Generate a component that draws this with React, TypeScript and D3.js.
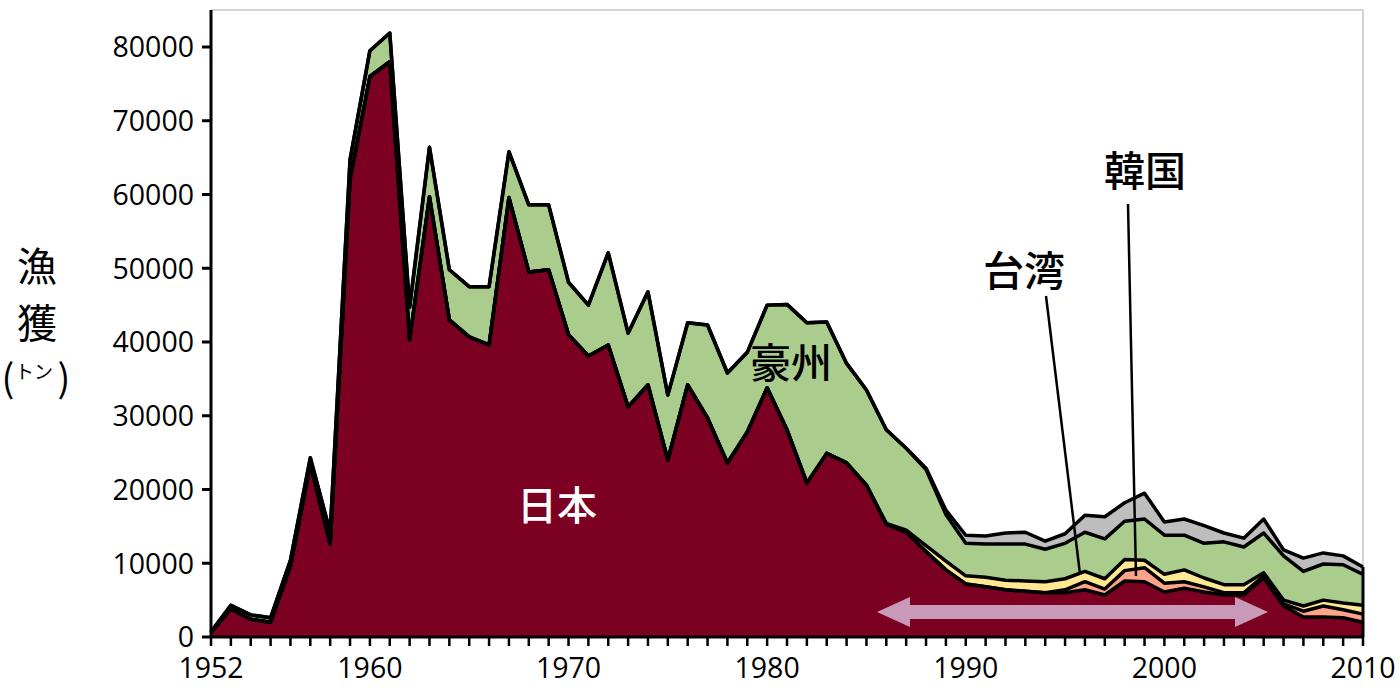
import React from "react";
import * as d3 from "d3";

const years: number[] = d3.range(1952, 2011);

const japan: number[] = [
  600, 3800, 2400, 2000, 9600, 23400, 12600, 62000, 76000, 78000,
  40300, 59700, 43000, 40700, 39600, 59600, 49500, 49800, 41000, 38100,
  39600, 31200, 34200, 24000, 34200, 29700, 23600, 27800, 33800, 28100,
  20900, 24900, 23600, 20600, 15300, 14200, 11600, 9100, 7200, 6800,
  6400, 6200, 6000, 6000, 6400, 5700, 7600, 7500, 6100, 6600,
  6100, 5700, 5700, 8000, 4200, 2700, 2700, 2600, 2000,
];
const korea: number[] = [
  0, 0, 0, 0, 0, 0, 0, 0, 0, 0,
  0, 0, 0, 0, 0, 0, 0, 0, 0, 0,
  0, 0, 0, 0, 0, 0, 0, 0, 0, 0,
  0, 0, 0, 0, 0, 0, 0, 0, 0, 0,
  0, 0, 0, 400, 1100, 800, 1400, 1900, 1200, 900,
  700, 300, 300, 300, 300, 800, 1500, 1100, 1100,
];
const taiwan: number[] = [
  0, 0, 0, 0, 0, 0, 0, 0, 0, 0,
  0, 0, 0, 0, 0, 0, 0, 0, 0, 0,
  0, 0, 0, 0, 0, 0, 0, 0, 0, 0,
  0, 0, 0, 0, 100, 300, 800, 1200, 1100, 1300,
  1300, 1400, 1500, 1500, 1400, 1400, 1500, 1000, 1200, 1600,
  1200, 1100, 1100, 400, 500, 700, 800, 900, 1200,
];
const australia: number[] = [
  100, 500, 600, 600, 800, 900, 1600, 2700, 3500, 3900,
  4400, 6700, 6800, 6800, 7900, 6200, 9100, 8800, 7100, 6900,
  12500, 10000, 12600, 8800, 8400, 12600, 12200, 10800, 11200, 17000,
  21700, 17800, 13500, 12900, 12700, 11100, 10300, 6300, 4400, 4500,
  4900, 5000, 4400, 4800, 5300, 5400, 5200, 5600, 5300, 4700,
  4700, 5800, 5100, 5400, 6000, 4700, 4900, 5200, 4200,
];
const others: number[] = [
  0, 0, 0, 0, 0, 0, 0, 0, 0, 0,
  0, 0, 0, 0, 0, 0, 0, 0, 0, 0,
  0, 0, 0, 0, 0, 0, 0, 0, 0, 0,
  0, 0, 0, 0, 0, 0, 200, 600, 1100, 1100,
  1500, 1600, 1100, 1300, 2300, 3000, 2500, 3500, 1800, 2200,
  2400, 1200, 1200, 1900, 800, 1800, 1500, 1200, 1000,
];

const seriesKeys = ["japan", "korea", "taiwan", "australia", "others"];
const seriesColors = ["#7b0021", "#ffa48a", "#ffe891", "#aacd8e", "#bebebe"];
const yTicks: number[] = [0, 10000, 20000, 30000, 40000, 50000, 60000, 70000, 80000];
const xTickLabels: number[] = [1952, 1960, 1970, 1980, 1990, 2000, 2010];

const W = 1400;
const H = 700;
const left = 211;
const right = 1363;
const top = 10;
const bottom = 637;
const FONT = "'Open Sans', 'Noto Sans', sans-serif";
const CJK = "'Noto Sans CJK JP', sans-serif";

export default function App() {
  const table = years.map((y, i) => ({
    year: y,
    japan: japan[i],
    korea: korea[i],
    taiwan: taiwan[i],
    australia: australia[i],
    others: others[i],
  }));
  const stacked = d3.stack<any>().keys(seriesKeys)(table);
  const x = d3.scaleLinear().domain([1952, 2010]).range([left, right]);
  const y = d3.scaleLinear().domain([0, 80000]).range([bottom, 47]);

  const area = d3
    .area<any>()
    .x((d) => x(d.data.year))
    .y0((d) => y(d[0]))
    .y1((d) => y(d[1]));
  const line = d3
    .line<any>()
    .x((d) => x(d.data.year))
    .y((d) => y(d[1]));

  // arrow
  const ax0 = 877, ax1 = 1268, ay = 612, headL = 33, headH = 15, shaftH = 7;
  const arrowPath = `M${ax0},${ay} L${ax0 + headL},${ay - headH} L${ax0 + headL},${ay - shaftH} L${ax1 - headL},${ay - shaftH} L${ax1 - headL},${ay - headH} L${ax1},${ay} L${ax1 - headL},${ay + headH} L${ax1 - headL},${ay + shaftH} L${ax0 + headL},${ay + shaftH} L${ax0 + headL},${ay + headH} Z`;

  return (
    <svg width={W} height={H} style={{ position: "absolute", left: 0, top: 0, background: "#fff" }}>
      {/* frame */}
      <path d={`M${left},${top} L${right},${top} L${right},${bottom}`} fill="none" stroke="#d4d4d4" strokeWidth={2} />
      {stacked.map((s, i) => (
        <path key={"a" + i} d={area(s) || ""} fill={seriesColors[i]} />
      ))}
      {stacked.map((s, i) => (
        <path key={"l" + i} d={line(s) || ""} fill="none" stroke="#000" strokeWidth={3.5} strokeLinejoin="round" />
      ))}
      <path d={`M${x(2010)},${y(stacked[4][58][1])} L${x(2010)},${bottom}`} stroke="#000" strokeWidth={3} />
      {/* arrow */}
      <path d={arrowPath} fill="#c99ab7" />
      {/* axes */}
      <line x1={left} x2={left} y1={top} y2={bottom + 1} stroke="#000" strokeWidth={3} />
      <line x1={left - 1} x2={right + 1} y1={bottom} y2={bottom} stroke="#000" strokeWidth={3} />
      {yTicks.map((t) => (
        <g key={"yt" + t}>
          <line x1={left - 9} x2={left} y1={y(t)} y2={y(t)} stroke="#000" strokeWidth={3} />
          <text x={194} y={y(t)} dy="0.36em" textAnchor="end" fontFamily={FONT} fontSize={28.5} fill="#000">
            {t}
          </text>
        </g>
      ))}
      {years.map((yr) => (
        <line key={"xt" + yr} x1={x(yr)} x2={x(yr)} y1={bottom} y2={bottom + 9} stroke="#000" strokeWidth={2.5} />
      ))}
      {xTickLabels.map((yr) => (
        <text key={"xl" + yr} x={x(yr)} y={678} textAnchor="middle" fontFamily={FONT} fontSize={28.5} fill="#000">
          {yr}
        </text>
      ))}
      {/* y axis title */}
      <text x={37} y={281} textAnchor="middle" fontFamily={CJK} fontSize={40} fill="#000">漁</text>
      <text x={37} y={338} textAnchor="middle" fontFamily={CJK} fontSize={40} fill="#000">獲</text>
      <text x={8} y={392} textAnchor="middle" fontFamily={CJK} fontSize={38} fill="#000">(</text>
      <text x={34} y={379} textAnchor="middle" fontFamily={CJK} fontSize={19} fill="#000">トン</text>
      <text x={64} y={392} textAnchor="middle" fontFamily={CJK} fontSize={38} fill="#000">)</text>
      {/* labels */}
      <text x={557} y={520} textAnchor="middle" fontFamily={CJK} fontSize={40} fontWeight={500} fill="#fff">日本</text>
      <text x={791} y={378} textAnchor="middle" fontFamily={CJK} fontSize={41} fontWeight={500} fill="#000">豪州</text>
      <text x={1024} y={286} textAnchor="middle" fontFamily={CJK} fontSize={41} fontWeight={500} fill="#000">台湾</text>
      <text x={1145} y={186} textAnchor="middle" fontFamily={CJK} fontSize={41} fontWeight={500} fill="#000">韓国</text>
      <line x1={1046} y1={296} x2={1080} y2={574} stroke="#000" strokeWidth={2.5} />
      <line x1={1128} y1={204} x2={1136} y2={576} stroke="#000" strokeWidth={2.5} />
    </svg>
  );
}
